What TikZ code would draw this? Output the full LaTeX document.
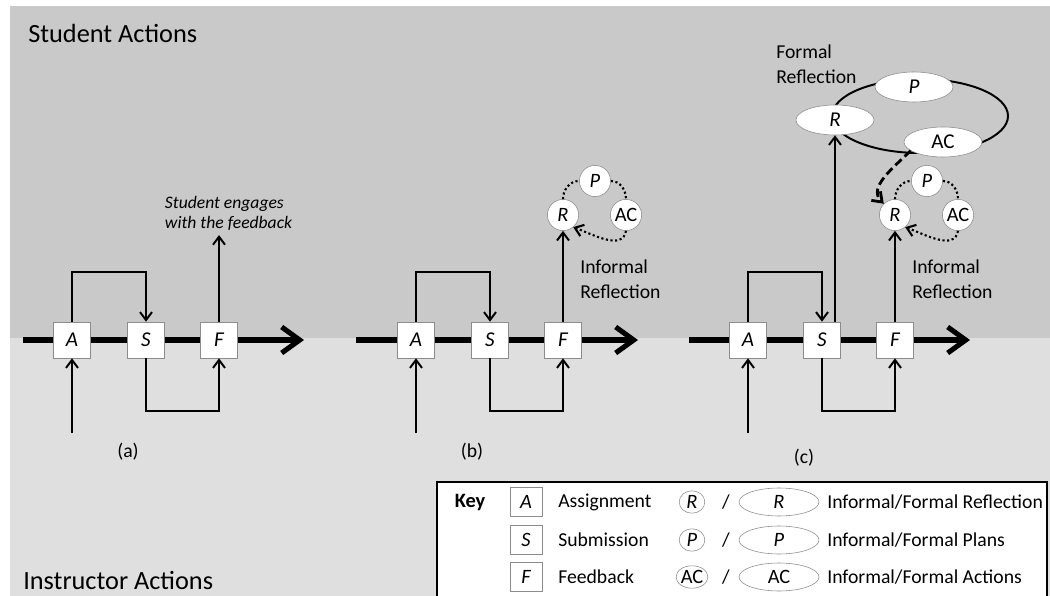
\documentclass[tikz,border=0pt]{standalone}
\usepackage{fontspec}
\setmainfont{Carlito}
\usetikzlibrary{arrows.meta,shapes.geometric}

\definecolor{upgray}{RGB}{201,201,201}
\definecolor{lowgray}{RGB}{223,223,223}
\definecolor{rimgray}{RGB}{140,140,140}

\tikzset{
  act/.style={draw=rimgray,fill=white,minimum width=0.92cm,minimum height=0.9cm,inner sep=0pt,font=\fontsize{15}{17}\selectfont\itshape},
  inf/.style={circle,draw=rimgray,fill=white,minimum size=0.78cm,inner sep=0pt,font=\fontsize{14.5}{16}\selectfont},
  frm/.style={ellipse,draw=rimgray,fill=white,minimum width=1.95cm,minimum height=0.75cm,inner sep=0pt,font=\fontsize{15}{17}\selectfont},
  keysq/.style={draw=rimgray,fill=white,minimum width=0.8cm,minimum height=0.72cm,inner sep=0pt,font=\fontsize{14.5}{16}\selectfont\itshape},
  keyinf/.style={ellipse,draw=rimgray,fill=white,minimum width=0.64cm,minimum height=0.56cm,inner sep=0pt,font=\fontsize{14.5}{16}\selectfont},
  keyfrm/.style={ellipse,draw=rimgray,fill=white,minimum width=2cm,minimum height=0.7cm,inner sep=0pt,font=\fontsize{14.5}{16}\selectfont},
  timeline/.style={line width=3.6pt,-{Straight Barb[length=4.5mm,width=6.5mm]}},
  flow/.style={line width=1.4pt,-{Straight Barb[length=2mm,width=3mm]}},
  loopdot/.style={line width=1.5pt,dash pattern=on 1.5pt off 1.8pt},
  dashflow/.style={line width=2pt,dash pattern=on 6pt off 3pt,-{Straight Barb[length=2.2mm,width=3.2mm]}},
  lab/.style={font=\fontsize{14}{17.8}\selectfont,align=left,inner sep=0pt},
  title/.style={font=\fontsize{18.7}{22}\selectfont,anchor=base west,inner sep=0pt},
}

\begin{document}
\begin{tikzpicture}[x=0.025cm,y=0.025cm]
\useasboundingbox (0,0) rectangle (1050,-596);
\fill[white] (0,0) rectangle (1050,-596);
\fill[upgray] (10,-6) rectangle (1050,-338);
\fill[lowgray] (10,-338) rectangle (1050,-596);
\node[title] (stud) at (28,-43) {Student Actions};
\node[title] (inst) at (23,-589) {Instructor Actions};

\foreach \p/\ox/\xs/\xe/\yl in {a/0/23/304/452,b/344/356/638/452,c/676/689/970/458}{
  \node[act] (A\p) at (\ox+72,-340) {A};
  \node[act] (S\p) at (\ox+146,-340) {S};
  \node[act] (F\p) at (\ox+219,-340) {F};
  \coordinate (L\p) at (\xs,-340);
  \coordinate (E\p) at (\xe,-340);
  \coordinate (T\p) at (\ox+72,-433);
  \draw[timeline] (L\p) -- (A\p) -- (S\p) -- (F\p) -- (E\p);
  \draw[flow] (A\p.north) -- ++(0,50) -| (S\p.north);
  \draw[flow] (T\p) -- (A\p.south);
  \draw[flow] (S\p.south) -- ++(0,-53) -| (F\p.south);
  \node[lab] (cap\p) at (\ox+128,-\yl) {(\p)};
}

\node[font=\fontsize{12.5}{14.2}\selectfont\itshape,align=left,anchor=west] (eng) at (160,-213) {Student engages\\with the feedback};
\draw[flow] (Fa.north) -- (Fa.north |- eng.south);

\foreach \p in {b,c}{
  \node[inf] (R\p) at ([shift={(0,125)}]F\p) {\itshape R};
  \node[inf] (P\p) at ([shift={(32,159)}]F\p) {\itshape P};
  \node[inf] (AC\p) at ([shift={(63,125)}]F\p) {AC};
  \draw[loopdot] (R\p.north) to[out=90,in=180] (P\p.west);
  \draw[loopdot] (P\p.east) to[out=0,in=90] (AC\p.north);
  \draw[loopdot,-{Straight Barb[length=2mm,width=3mm]}] (AC\p.south) to[out=-100,in=-20] (R\p.-50);
  \draw[flow] (F\p.north) -- (R\p.south);
  \node[lab,anchor=west] (IR\p) at ([shift={(17,61)}]F\p) {Informal\\Reflection};
}

% formal loop of panel (c)
\coordinate (fc) at (920,-116);
\draw[line width=1.4pt] (fc) ellipse [x radius=88,y radius=37];
\node[frm] (Rform) at (835,-120) {\itshape R};
\node[frm] (Pform) at (914,-87) {\itshape P};
\node[frm] (ACform) at (943,-142) {AC};
\node[lab,anchor=west] (FR) at (776,-64) {Formal\\Reflection};
\draw[flow] (Sc.north -| Rform.south) -- (Rform.south);
\draw[dashflow] (ACform.195) to[out=225,in=135] (Rc.135);

% key
\draw[line width=1.6pt,fill=white] (437,-482) rectangle (1047,-600);
\node[font=\fontsize{14.5}{16}\selectfont\bfseries] (key) at (470,-502) {Key};
\foreach \l/\t/\y in {A/Assignment/502,S/Submission/540,F/Feedback/577}{
  \node[keysq] (k\l) at (526,-\y) {\l};
  \node[lab,anchor=west] (kt\l) at (558,-\y) {\t};
}
\foreach \n/\s/\t/\y in {R/{\itshape R}/Reflection/502,P/{\itshape P}/Plans/540,AC/AC/Actions/577}{
  \node[keyinf] (ki\n) at (692,-\y) {\s};
  \node[lab] (ks\n) at (726,-\y) {/};
  \node[keyfrm] (kf\n) at (779,-\y) {\s};
  \node[lab,anchor=west] (kd\n) at (827,-\y) {Informal/Formal \t};
}
\end{tikzpicture}
\end{document}
